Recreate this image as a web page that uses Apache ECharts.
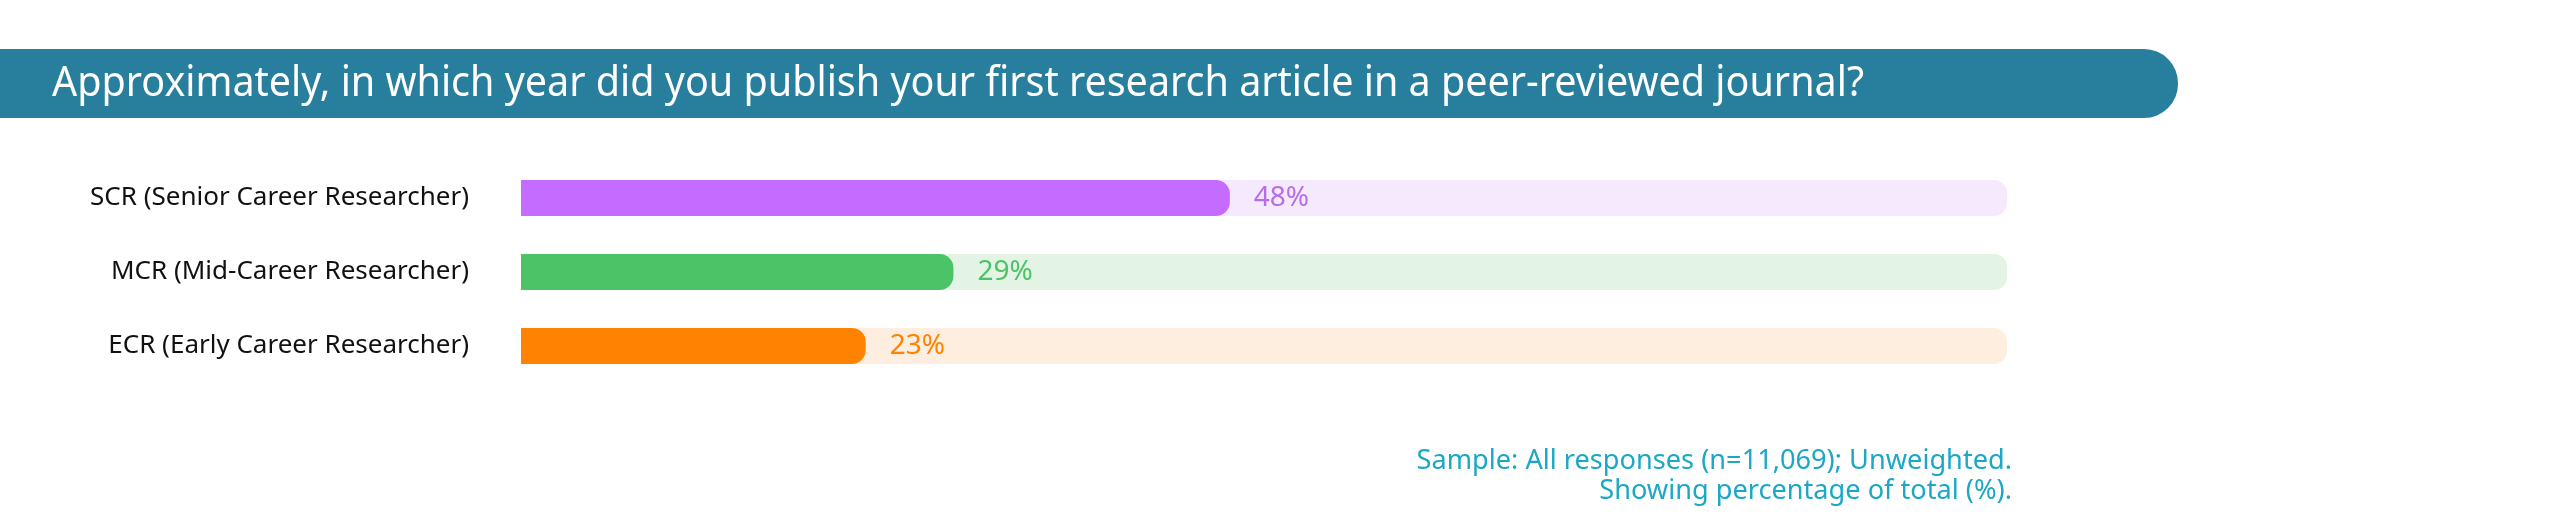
<!DOCTYPE html>
<html>
<head>
<meta charset="utf-8">
<script src="https://cdn.jsdelivr.net/npm/echarts@6/dist/echarts.min.js"></script>
<style>
html,body{margin:0;padding:0;background:#fff;}
#chart{width:2560px;height:516px;}
</style>
</head>
<body>
<div id="chart"></div>
<script>
const titleText = 'Approximately, in which year did you publish your first research article in a peer-reviewed journal?';
const categories = ['SCR (Senior Career Researcher)', 'MCR (Mid-Career Researcher)', 'ECR (Early Career Researcher)'];
const values = [47.7, 29.1, 23.2];
const fullScale = [100, 100, 100];
const barColors = ['#C36CFF', '#4CC366', '#FF8300'];
const trackColors = ['#F5E9FE', '#E3F4E5', '#FDEEDF'];
const labelColors = ['#B86EEA', '#4CC366', '#FF8300'];
const footnoteLines = ['Sample: All responses (n=11,069); Unweighted.', 'Showing percentage of total (%).'];

const FONT = '"Noto Sans", "Open Sans", sans-serif';
const chart = echarts.init(document.getElementById('chart'), null, {renderer: 'canvas'});

chart.setOption({
  animation: false,
  backgroundColor: '#ffffff',
  graphic: [
    {
      type: 'rect', left: 0, top: 49, z: 0,
      shape: {width: 2178, height: 69, r: [0, 34, 34, 0]},
      style: {fill: '#277E9D'}
    },
    {
      type: 'text', x: 52, y: 84, z: 1, scaleX: 0.94,
      style: {text: titleText, fill: '#ffffff', font: '42px ' + FONT, verticalAlign: 'middle'}
    },
    {
      type: 'text', x: 2012, y: 461, z: 1, scaleX: 0.97,
      style: {text: footnoteLines[0], fill: '#1BA8C6', font: '28px ' + FONT, align: 'right', verticalAlign: 'middle'}
    },
    {
      type: 'text', x: 2012, y: 491, z: 1, scaleX: 0.97,
      style: {text: footnoteLines[1], fill: '#1BA8C6', font: '28px ' + FONT, align: 'right', verticalAlign: 'middle'}
    }
  ],
  grid: {left: 521, right: 553, top: 161, bottom: 133, containLabel: false},
  xAxis: {type: 'value', min: 0, max: 100, show: false},
  yAxis: {
    type: 'category', data: categories, inverse: true,
    axisLine: {show: false}, axisTick: {show: false}, splitLine: {show: false},
    axisLabel: {color: '#111111', fontSize: 26, fontFamily: FONT, margin: 52}
  },
  series: [
    {
      type: 'bar', silent: true, barWidth: 36, z: 1,
      data: fullScale.map((v, i) => ({value: v, itemStyle: {color: trackColors[i]}})),
      itemStyle: {borderRadius: [0, 13, 13, 0]}
    },
    {
      type: 'bar', barWidth: 36, barGap: '-100%', z: 2,
      data: values.map((v, i) => ({
        value: v,
        itemStyle: {color: barColors[i]},
        label: {color: labelColors[i]}
      })),
      itemStyle: {borderRadius: [0, 14, 14, 0]},
      label: {
        show: true, position: 'right', distance: 24,
        fontSize: 28, fontFamily: FONT,
        formatter: p => Math.round(p.value) + '%'
      }
    }
  ]
});
</script>
</body>
</html>
